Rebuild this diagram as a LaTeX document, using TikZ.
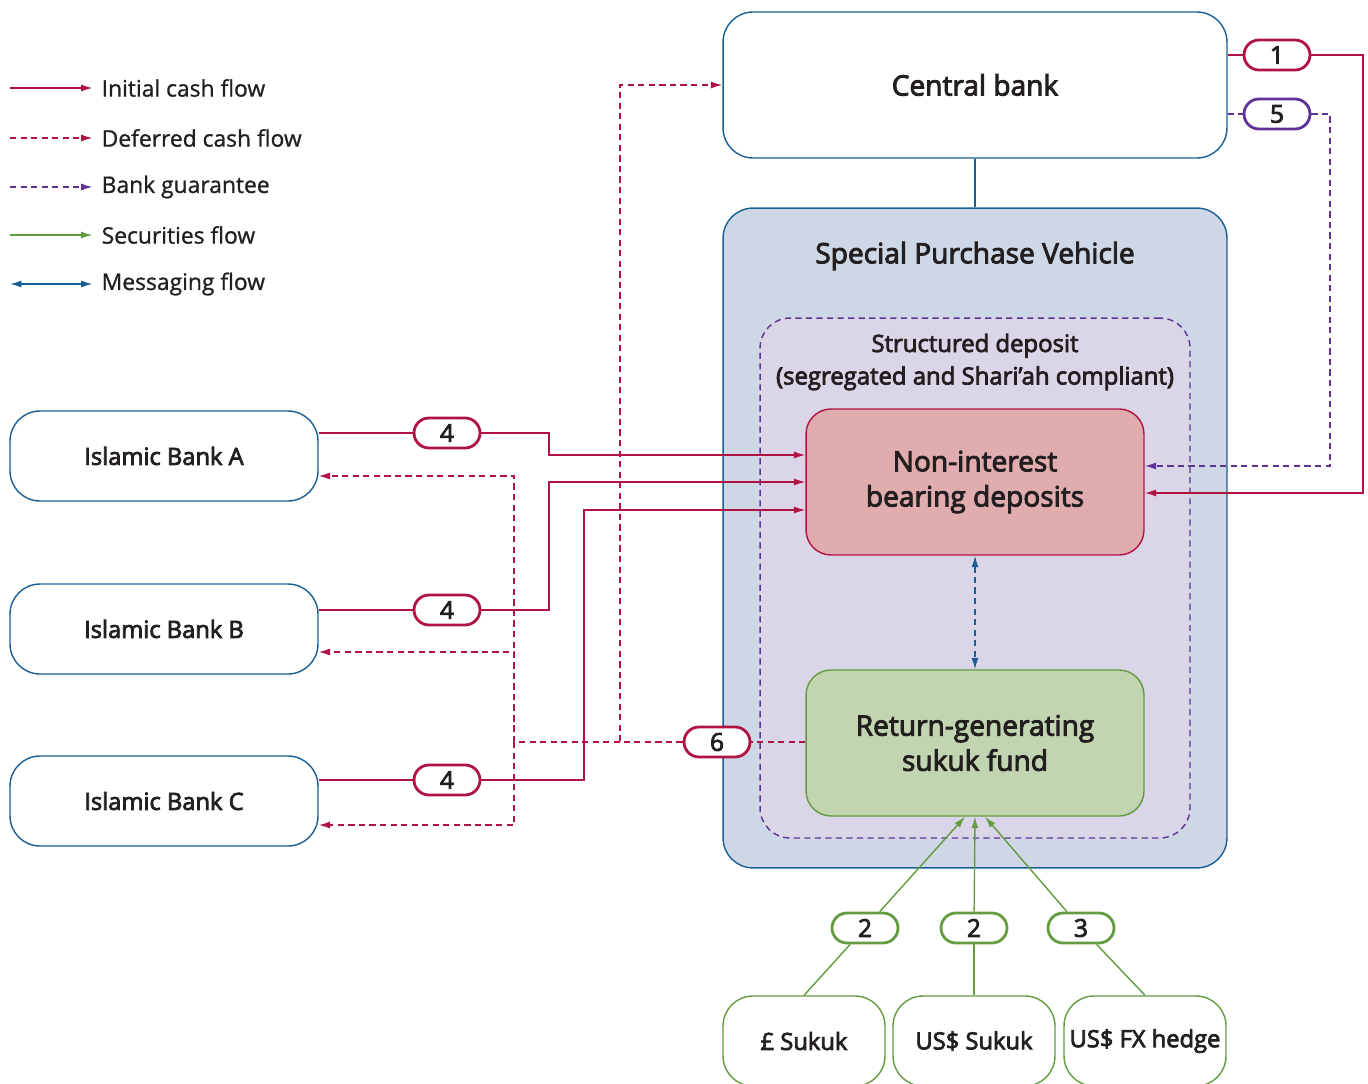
\documentclass[tikz,border=0pt]{standalone}
\usepackage{fontspec}
\setmainfont{Open Sans}
\newfontfamily\medfont{Open Sans}[FakeBold=3.2]
\newfontfamily\legfont{Open Sans}[FakeBold=1]
\usetikzlibrary{arrows.meta, positioning}

\definecolor{cashred}{RGB}{176,18,66}
\definecolor{guarpurple}{RGB}{95,50,150}
\definecolor{secgreen}{RGB}{100,155,65}
\definecolor{msgblue}{RGB}{25,95,150}
\definecolor{spvfill}{RGB}{205,215,230}
\definecolor{sdfill}{RGB}{219,213,232}
\definecolor{nibdfill}{RGB}{224,172,173}
\definecolor{fundfill}{RGB}{194,213,177}
\definecolor{ink}{RGB}{35,31,32}

\begin{document}
\begin{tikzpicture}[x=0.02cm, y=-0.02cm, >={Latex[length=6.5pt,width=4pt]}, line width=0.8pt, text=ink]
        \tikzstyle{box}=[draw=msgblue, fill=white, rounded corners=0.6cm, inner sep=0, align=center, minimum width=6.16cm, minimum height=1.8cm, font=\medfont\fontsize{13.5}{16}\selectfont]
        \tikzstyle{inner}=[rounded corners=0.5cm, inner sep=0, align=center, minimum width=6.76cm, minimum height=2.92cm, font=\medfont\fontsize{16}{20}\selectfont]
        \tikzstyle{sukuk}=[draw=secgreen, fill=white, rounded corners=0.6cm, inner sep=0, minimum width=3.24cm, minimum height=1.8cm, font=\medfont\fontsize{13.5}{16}\selectfont]
        \tikzstyle{tag}=[fill=white, rounded corners=0.3cm, minimum width=1.32cm, minimum height=0.6cm, line width=1.6pt, inner sep=0, font=\medfont\fontsize{14}{16}\selectfont]
        \tikzstyle{legtext}=[anchor=west, inner sep=0, font=\legfont\fontsize{13}{16}\selectfont]
        \tikzstyle{cash}=[draw=cashred, color=cashred]
        \tikzstyle{defer}=[cash, dash pattern=on 3.5pt off 2.5pt]
        \tikzstyle{guar}=[draw=guarpurple, color=guarpurple, dash pattern=on 3.5pt off 2.5pt]
        \tikzstyle{sec}=[draw=secgreen, color=secgreen]
        \tikzstyle{msg}=[draw=msgblue, color=msgblue]

        \useasboundingbox (0,0) rectangle (1368,1084);

        % legend
        \node[legtext] (lg1) at (101,88) {Initial cash flow};
        \node[legtext] (lg2) at (101,138) {Deferred cash flow};
        \node[legtext] (lg3) at (101,187) {Bank guarantee};
        \node[legtext] (lg4) at (101,235) {Securities flow};
        \node[legtext] (lg5) at (101,284) {Messaging flow};
        \draw[cash, ->] (lg1.west) ++(-91,0) -- ([xshift=-0.17cm]lg1.west);
        \draw[defer, ->] (lg2.west) ++(-91,0) -- ([xshift=-0.17cm]lg2.west);
        \draw[guar, ->] (lg3.west) ++(-91,0) -- ([xshift=-0.17cm]lg3.west);
        \draw[sec, ->] (lg4.west) ++(-91,0) -- ([xshift=-0.17cm]lg4.west);
        \draw[msg, <->] (lg5.west) ++(-91,0) -- ([xshift=-0.17cm]lg5.west);

        % central bank and SPV
        \node[box, minimum width=10.08cm, minimum height=2.92cm, font=\medfont\fontsize{16}{20}\selectfont] (cb) at (975,85) {Central bank};
        \node[box, fill=spvfill, minimum width=10.08cm, minimum height=13.2cm] (spv) at (975,538) {};
        \draw[msgblue] (cb) -- (spv);
        \node[font=\medfont\fontsize{16}{20}\selectfont] (spvtitle) at (975,256) {Special Purchase Vehicle};
        \node[draw=guarpurple, fill=sdfill, dash pattern=on 3.5pt off 2.5pt, rounded corners=0.6cm, minimum width=8.6cm, minimum height=10.4cm] (sd) at (975,578) {};
        \node[align=center, font=\medfont\fontsize{13.6}{18.5}\selectfont] (sdtitle) at (975,362) {Structured deposit\\(segregated and Shari’ah compliant)};
        \node[inner, draw=cashred, fill=nibdfill] (nibd) at (975,482) {Non-interest\\bearing deposits};
        \node[inner, draw=secgreen, fill=fundfill] (fund) at (975,743) {Return-generating\\sukuk fund};

        % banks
        \node[box] (bankA) at (164,456) {Islamic Bank A};
        \node[box] (bankB) at (164,629) {Islamic Bank B};
        \node[box] (bankC) at (164,801) {Islamic Bank C};

        % sukuk sources
        \node[sukuk] (gbp) at (804,1041) {£ Sukuk};
        \node[sukuk] (usd) at (974,1041) {US\$ Sukuk};
        \node[sukuk] (fx) at (1145,1041) {US\$ FX hedge};

        % numbered tags
        \node[tag, draw=cashred] (t1) at (1277,55) {1};
        \node[tag, draw=guarpurple] (t5) at (1277,114) {5};
        \node[tag, draw=cashred] (t4a) at (447,433) {4};
        \node[tag, draw=cashred] (t4b) at (447,610) {4};
        \node[tag, draw=cashred] (t4c) at (447,780) {4};
        \node[tag, draw=cashred] (t6) at (717,742) {6};
        \node[tag, draw=secgreen] (t2a) at (865,928) {2};
        \node[tag, draw=secgreen] (t2b) at (974,928) {2};
        \node[tag, draw=secgreen] (t3) at (1081,928) {3};

        % initial cash flow
        \draw[cash] (bankA.east |- t4a) -- (t4a);
        \draw[cash] (bankB.east |- t4b) -- (t4b);
        \draw[cash] (bankC.east |- t4c) -- (t4c);
        \draw[cash, ->] (t4a) -- ++(102,0) |- ([yshift=0.54cm]nibd.west);
        \draw[cash, ->] (t4b) -- ++(102,0) |- (nibd.west);
        \draw[cash, ->] (t4c) -- ++(137,0) |- ([yshift=-0.56cm]nibd.west);
        \draw[cash] (cb.east |- t1) -- (t1);
        \draw[cash, ->] (t1) -- ++(86,0) |- ([yshift=-0.22cm]nibd.east);

        % bank guarantee
        \draw[guar] (cb.east |- t5) -- (t5);
        \draw[guar, ->] (t5) -- ++(53,0) |- ([yshift=0.32cm]nibd.east);

        % deferred cash flow
        \coordinate (d1) at (620,742);
        \coordinate (d2) at (514,742);
        \draw[defer] (fund.west |- t6) -- (t6);
        \draw[defer, ->] (t6) -- (d1) |- (cb.west);
        \draw[defer, ->] (d1) -- (d2) |- ([yshift=-0.4cm]bankA.east);
        \draw[defer, ->] (d2) |- ([yshift=-0.46cm]bankB.east);
        \draw[defer, ->] (d2) |- ([yshift=-0.48cm]bankC.east);

        % messaging flow
        \draw[msg, <->, dash pattern=on 3.5pt off 2.5pt] (nibd) -- (fund);

        % securities flow
        \draw[sec] (gbp.north) -- (t2a);
        \draw[sec] (usd.north) -- (t2b);
        \draw[sec] (fx.north) -- (t3);
        \draw[sec, ->] (t2a) -- ([xshift=-0.2cm]fund.south);
        \draw[sec, ->] (t2b) -- (fund.south);
        \draw[sec, ->] (t3) -- ([xshift=0.2cm]fund.south);
\end{tikzpicture}
\end{document}
